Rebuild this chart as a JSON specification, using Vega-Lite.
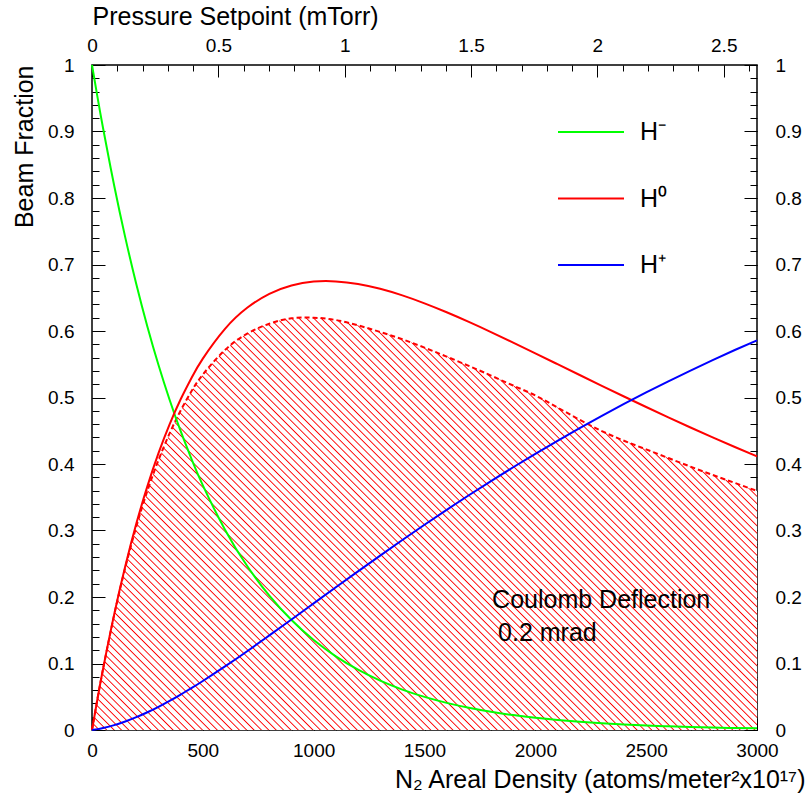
{
  "$schema": "https://vega.github.io/schema/vega-lite/v6.json",
  "width": 665,
  "height": 665,
  "autosize": "none",
  "padding": {"left": 92, "top": 65, "right": 55, "bottom": 73},
  "background": "white",
  "config": {
    "font": "Liberation Sans",
    "view": {"stroke": "black", "strokeWidth": 1.5},
    "axis": {
      "domain": false, "grid": false, "tickColor": "black", "labelColor": "black", "titleColor": "black",
      "labelFont": "Liberation Sans", "titleFont": "Liberation Sans", "labelFontSize": 19, "titleFontSize": 25,
      "titleFontWeight": "normal", "tickWidth": 1, "labelFlush": false, "labelOverlap": false
    }
  },
  "datasets": {
    "main": [
      {"x":0,"s":"H⁻","f":1},{"x":25,"s":"H⁻","f":0.9512},{"x":50,"s":"H⁻","f":0.9048},{"x":100,"s":"H⁻","f":0.8187},{"x":150,"s":"H⁻","f":0.7408},{"x":200,"s":"H⁻","f":0.6703},{"x":250,"s":"H⁻","f":0.6065},{"x":300,"s":"H⁻","f":0.5488},{"x":350,"s":"H⁻","f":0.4966},{"x":400,"s":"H⁻","f":0.4493},{"x":450,"s":"H⁻","f":0.4066},{"x":500,"s":"H⁻","f":0.3679},{"x":600,"s":"H⁻","f":0.3012},{"x":700,"s":"H⁻","f":0.2466},{"x":800,"s":"H⁻","f":0.2019},{"x":900,"s":"H⁻","f":0.1653},{"x":1000,"s":"H⁻","f":0.1353},{"x":1100,"s":"H⁻","f":0.1108},{"x":1200,"s":"H⁻","f":0.0907},{"x":1300,"s":"H⁻","f":0.0743},{"x":1400,"s":"H⁻","f":0.0608},{"x":1500,"s":"H⁻","f":0.0498},{"x":1600,"s":"H⁻","f":0.0408},{"x":1700,"s":"H⁻","f":0.0334},{"x":1800,"s":"H⁻","f":0.0273},{"x":1900,"s":"H⁻","f":0.0224},{"x":2000,"s":"H⁻","f":0.0183},{"x":2100,"s":"H⁻","f":0.0150},{"x":2200,"s":"H⁻","f":0.0123},{"x":2300,"s":"H⁻","f":0.0101},{"x":2400,"s":"H⁻","f":0.0082},{"x":2500,"s":"H⁻","f":0.0067},{"x":2600,"s":"H⁻","f":0.0055},{"x":2700,"s":"H⁻","f":0.0045},{"x":2800,"s":"H⁻","f":0.0037},{"x":2900,"s":"H⁻","f":0.0030},{"x":3000,"s":"H⁻","f":0.0025},
      {"x":0,"s":"H⁰","f":0},{"x":25,"s":"H⁰","f":0.0474},{"x":50,"s":"H⁰","f":0.0922},{"x":100,"s":"H⁰","f":0.1739},{"x":150,"s":"H⁰","f":0.2464},{"x":200,"s":"H⁰","f":0.3104},{"x":250,"s":"H⁰","f":0.3667},{"x":300,"s":"H⁰","f":0.4163},{"x":350,"s":"H⁰","f":0.4596},{"x":400,"s":"H⁰","f":0.4974},{"x":450,"s":"H⁰","f":0.5302},{"x":500,"s":"H⁰","f":0.5585},{"x":600,"s":"H⁰","f":0.6032},{"x":700,"s":"H⁰","f":0.6349},{"x":800,"s":"H⁰","f":0.6559},{"x":900,"s":"H⁰","f":0.6685},{"x":1000,"s":"H⁰","f":0.6743},{"x":1100,"s":"H⁰","f":0.6746},{"x":1200,"s":"H⁰","f":0.6707},{"x":1300,"s":"H⁰","f":0.6634},{"x":1400,"s":"H⁰","f":0.6535},{"x":1500,"s":"H⁰","f":0.6416},{"x":1600,"s":"H⁰","f":0.6282},{"x":1700,"s":"H⁰","f":0.6137},{"x":1800,"s":"H⁰","f":0.5984},{"x":1900,"s":"H⁰","f":0.5825},{"x":2000,"s":"H⁰","f":0.5664},{"x":2100,"s":"H⁰","f":0.5501},{"x":2200,"s":"H⁰","f":0.5338},{"x":2300,"s":"H⁰","f":0.5176},{"x":2400,"s":"H⁰","f":0.5015},{"x":2500,"s":"H⁰","f":0.4857},{"x":2600,"s":"H⁰","f":0.4702},{"x":2700,"s":"H⁰","f":0.4549},{"x":2800,"s":"H⁰","f":0.4401},{"x":2900,"s":"H⁰","f":0.4256},{"x":3000,"s":"H⁰","f":0.4115},
      {"x":0,"s":"H⁺","f":0},{"x":25,"s":"H⁺","f":0.0013},{"x":50,"s":"H⁺","f":0.0030},{"x":100,"s":"H⁺","f":0.0073},{"x":150,"s":"H⁺","f":0.0128},{"x":200,"s":"H⁺","f":0.0193},{"x":250,"s":"H⁺","f":0.0267},{"x":300,"s":"H⁺","f":0.0349},{"x":350,"s":"H⁺","f":0.0438},{"x":400,"s":"H⁺","f":0.0533},{"x":450,"s":"H⁺","f":0.0632},{"x":500,"s":"H⁺","f":0.0737},{"x":600,"s":"H⁺","f":0.0956},{"x":700,"s":"H⁺","f":0.1185},{"x":800,"s":"H⁺","f":0.1422},{"x":900,"s":"H⁺","f":0.1662},{"x":1000,"s":"H⁺","f":0.1904},{"x":1100,"s":"H⁺","f":0.2146},{"x":1200,"s":"H⁺","f":0.2386},{"x":1300,"s":"H⁺","f":0.2623},{"x":1400,"s":"H⁺","f":0.2857},{"x":1500,"s":"H⁺","f":0.3086},{"x":1600,"s":"H⁺","f":0.3311},{"x":1700,"s":"H⁺","f":0.3530},{"x":1800,"s":"H⁺","f":0.3743},{"x":1900,"s":"H⁺","f":0.3951},{"x":2000,"s":"H⁺","f":0.4153},{"x":2100,"s":"H⁺","f":0.4349},{"x":2200,"s":"H⁺","f":0.4539},{"x":2300,"s":"H⁺","f":0.4724},{"x":2400,"s":"H⁺","f":0.4903},{"x":2500,"s":"H⁺","f":0.5076},{"x":2600,"s":"H⁺","f":0.5243},{"x":2700,"s":"H⁺","f":0.5405},{"x":2800,"s":"H⁺","f":0.5562},{"x":2900,"s":"H⁺","f":0.5714},{"x":3000,"s":"H⁺","f":0.5860}
    ],
    "coul": [
      {"x":0,"f":0},{"x":25,"f":0.0474},{"x":50,"f":0.0920},{"x":100,"f":0.1728},{"x":150,"f":0.2440},{"x":200,"f":0.3060},{"x":250,"f":0.3598},{"x":300,"f":0.4060},{"x":350,"f":0.4460},{"x":400,"f":0.4805},{"x":450,"f":0.5100},{"x":500,"f":0.5345},{"x":600,"f":0.5715},{"x":700,"f":0.5960},{"x":800,"f":0.6110},{"x":900,"f":0.6190},{"x":1000,"f":0.6200},{"x":1100,"f":0.6165},{"x":1200,"f":0.6085},{"x":1300,"f":0.5985},{"x":1400,"f":0.5875},{"x":1500,"f":0.5750},{"x":1600,"f":0.5615},{"x":1700,"f":0.5475},{"x":1800,"f":0.5330},{"x":1900,"f":0.5180},{"x":2000,"f":0.5030},{"x":2100,"f":0.4850},{"x":2200,"f":0.4665},{"x":2300,"f":0.4495},{"x":2400,"f":0.4350},{"x":2500,"f":0.4220},{"x":2600,"f":0.4090},{"x":2700,"f":0.3960},{"x":2800,"f":0.3835},{"x":2900,"f":0.3715},{"x":3000,"f":0.3595}
    ]
  },
  "layer": [
    {
      "data": {"name": "coul"},
      "mark": {"type": "area", "interpolate": "natural",
        "fill": {"gradient": "linear", "x1": 0, "y1": 1, "x2": 1, "y2": 0.38, "stops": [
{"offset":0,"color":"red"},{"offset":0.0014,"color":"#fff"},{"offset":0.0066,"color":"#fff"},
{"offset":0.008,"color":"red"},{"offset":0.0094,"color":"#fff"},{"offset":0.0146,"color":"#fff"},
{"offset":0.016,"color":"red"},{"offset":0.0174,"color":"#fff"},{"offset":0.0226,"color":"#fff"},
{"offset":0.024,"color":"red"},{"offset":0.0254,"color":"#fff"},{"offset":0.0306,"color":"#fff"},
{"offset":0.032,"color":"red"},{"offset":0.0334,"color":"#fff"},{"offset":0.0386,"color":"#fff"},
{"offset":0.04,"color":"red"},{"offset":0.0414,"color":"#fff"},{"offset":0.0466,"color":"#fff"},
{"offset":0.048,"color":"red"},{"offset":0.0494,"color":"#fff"},{"offset":0.0546,"color":"#fff"},
{"offset":0.056,"color":"red"},{"offset":0.0574,"color":"#fff"},{"offset":0.0626,"color":"#fff"},
{"offset":0.064,"color":"red"},{"offset":0.0654,"color":"#fff"},{"offset":0.0706,"color":"#fff"},
{"offset":0.072,"color":"red"},{"offset":0.0734,"color":"#fff"},{"offset":0.0786,"color":"#fff"},
{"offset":0.08,"color":"red"},{"offset":0.0814,"color":"#fff"},{"offset":0.0866,"color":"#fff"},
{"offset":0.088,"color":"red"},{"offset":0.0894,"color":"#fff"},{"offset":0.0946,"color":"#fff"},
{"offset":0.096,"color":"red"},{"offset":0.0974,"color":"#fff"},{"offset":0.1026,"color":"#fff"},
{"offset":0.104,"color":"red"},{"offset":0.1054,"color":"#fff"},{"offset":0.1106,"color":"#fff"},
{"offset":0.112,"color":"red"},{"offset":0.1134,"color":"#fff"},{"offset":0.1186,"color":"#fff"},
{"offset":0.12,"color":"red"},{"offset":0.1214,"color":"#fff"},{"offset":0.1266,"color":"#fff"},
{"offset":0.128,"color":"red"},{"offset":0.1294,"color":"#fff"},{"offset":0.1346,"color":"#fff"},
{"offset":0.136,"color":"red"},{"offset":0.1374,"color":"#fff"},{"offset":0.1426,"color":"#fff"},
{"offset":0.144,"color":"red"},{"offset":0.1454,"color":"#fff"},{"offset":0.1506,"color":"#fff"},
{"offset":0.152,"color":"red"},{"offset":0.1534,"color":"#fff"},{"offset":0.1586,"color":"#fff"},
{"offset":0.16,"color":"red"},{"offset":0.1614,"color":"#fff"},{"offset":0.1666,"color":"#fff"},
{"offset":0.168,"color":"red"},{"offset":0.1694,"color":"#fff"},{"offset":0.1746,"color":"#fff"},
{"offset":0.176,"color":"red"},{"offset":0.1774,"color":"#fff"},{"offset":0.1826,"color":"#fff"},
{"offset":0.184,"color":"red"},{"offset":0.1854,"color":"#fff"},{"offset":0.1906,"color":"#fff"},
{"offset":0.192,"color":"red"},{"offset":0.1934,"color":"#fff"},{"offset":0.1986,"color":"#fff"},
{"offset":0.2,"color":"red"},{"offset":0.2014,"color":"#fff"},{"offset":0.2066,"color":"#fff"},
{"offset":0.208,"color":"red"},{"offset":0.2094,"color":"#fff"},{"offset":0.2146,"color":"#fff"},
{"offset":0.216,"color":"red"},{"offset":0.2174,"color":"#fff"},{"offset":0.2226,"color":"#fff"},
{"offset":0.224,"color":"red"},{"offset":0.2254,"color":"#fff"},{"offset":0.2306,"color":"#fff"},
{"offset":0.232,"color":"red"},{"offset":0.2334,"color":"#fff"},{"offset":0.2386,"color":"#fff"},
{"offset":0.24,"color":"red"},{"offset":0.2414,"color":"#fff"},{"offset":0.2466,"color":"#fff"},
{"offset":0.248,"color":"red"},{"offset":0.2494,"color":"#fff"},{"offset":0.2546,"color":"#fff"},
{"offset":0.256,"color":"red"},{"offset":0.2574,"color":"#fff"},{"offset":0.2626,"color":"#fff"},
{"offset":0.264,"color":"red"},{"offset":0.2654,"color":"#fff"},{"offset":0.2706,"color":"#fff"},
{"offset":0.272,"color":"red"},{"offset":0.2734,"color":"#fff"},{"offset":0.2786,"color":"#fff"},
{"offset":0.28,"color":"red"},{"offset":0.2814,"color":"#fff"},{"offset":0.2866,"color":"#fff"},
{"offset":0.288,"color":"red"},{"offset":0.2894,"color":"#fff"},{"offset":0.2946,"color":"#fff"},
{"offset":0.296,"color":"red"},{"offset":0.2974,"color":"#fff"},{"offset":0.3026,"color":"#fff"},
{"offset":0.304,"color":"red"},{"offset":0.3054,"color":"#fff"},{"offset":0.3106,"color":"#fff"},
{"offset":0.312,"color":"red"},{"offset":0.3134,"color":"#fff"},{"offset":0.3186,"color":"#fff"},
{"offset":0.32,"color":"red"},{"offset":0.3214,"color":"#fff"},{"offset":0.3266,"color":"#fff"},
{"offset":0.328,"color":"red"},{"offset":0.3294,"color":"#fff"},{"offset":0.3346,"color":"#fff"},
{"offset":0.336,"color":"red"},{"offset":0.3374,"color":"#fff"},{"offset":0.3426,"color":"#fff"},
{"offset":0.344,"color":"red"},{"offset":0.3454,"color":"#fff"},{"offset":0.3506,"color":"#fff"},
{"offset":0.352,"color":"red"},{"offset":0.3534,"color":"#fff"},{"offset":0.3586,"color":"#fff"},
{"offset":0.36,"color":"red"},{"offset":0.3614,"color":"#fff"},{"offset":0.3666,"color":"#fff"},
{"offset":0.368,"color":"red"},{"offset":0.3694,"color":"#fff"},{"offset":0.3746,"color":"#fff"},
{"offset":0.376,"color":"red"},{"offset":0.3774,"color":"#fff"},{"offset":0.3826,"color":"#fff"},
{"offset":0.384,"color":"red"},{"offset":0.3854,"color":"#fff"},{"offset":0.3906,"color":"#fff"},
{"offset":0.392,"color":"red"},{"offset":0.3934,"color":"#fff"},{"offset":0.3986,"color":"#fff"},
{"offset":0.4,"color":"red"},{"offset":0.4014,"color":"#fff"},{"offset":0.4066,"color":"#fff"},
{"offset":0.408,"color":"red"},{"offset":0.4094,"color":"#fff"},{"offset":0.4146,"color":"#fff"},
{"offset":0.416,"color":"red"},{"offset":0.4174,"color":"#fff"},{"offset":0.4226,"color":"#fff"},
{"offset":0.424,"color":"red"},{"offset":0.4254,"color":"#fff"},{"offset":0.4306,"color":"#fff"},
{"offset":0.432,"color":"red"},{"offset":0.4334,"color":"#fff"},{"offset":0.4386,"color":"#fff"},
{"offset":0.44,"color":"red"},{"offset":0.4414,"color":"#fff"},{"offset":0.4466,"color":"#fff"},
{"offset":0.448,"color":"red"},{"offset":0.4494,"color":"#fff"},{"offset":0.4546,"color":"#fff"},
{"offset":0.456,"color":"red"},{"offset":0.4574,"color":"#fff"},{"offset":0.4626,"color":"#fff"},
{"offset":0.464,"color":"red"},{"offset":0.4654,"color":"#fff"},{"offset":0.4706,"color":"#fff"},
{"offset":0.472,"color":"red"},{"offset":0.4734,"color":"#fff"},{"offset":0.4786,"color":"#fff"},
{"offset":0.48,"color":"red"},{"offset":0.4814,"color":"#fff"},{"offset":0.4866,"color":"#fff"},
{"offset":0.488,"color":"red"},{"offset":0.4894,"color":"#fff"},{"offset":0.4946,"color":"#fff"},
{"offset":0.496,"color":"red"},{"offset":0.4974,"color":"#fff"},{"offset":0.5026,"color":"#fff"},
{"offset":0.504,"color":"red"},{"offset":0.5054,"color":"#fff"},{"offset":0.5106,"color":"#fff"},
{"offset":0.512,"color":"red"},{"offset":0.5134,"color":"#fff"},{"offset":0.5186,"color":"#fff"},
{"offset":0.52,"color":"red"},{"offset":0.5214,"color":"#fff"},{"offset":0.5266,"color":"#fff"},
{"offset":0.528,"color":"red"},{"offset":0.5294,"color":"#fff"},{"offset":0.5346,"color":"#fff"},
{"offset":0.536,"color":"red"},{"offset":0.5374,"color":"#fff"},{"offset":0.5426,"color":"#fff"},
{"offset":0.544,"color":"red"},{"offset":0.5454,"color":"#fff"},{"offset":0.5506,"color":"#fff"},
{"offset":0.552,"color":"red"},{"offset":0.5534,"color":"#fff"},{"offset":0.5586,"color":"#fff"},
{"offset":0.56,"color":"red"},{"offset":0.5614,"color":"#fff"},{"offset":0.5666,"color":"#fff"},
{"offset":0.568,"color":"red"},{"offset":0.5694,"color":"#fff"},{"offset":0.5746,"color":"#fff"},
{"offset":0.576,"color":"red"},{"offset":0.5774,"color":"#fff"},{"offset":0.5826,"color":"#fff"},
{"offset":0.584,"color":"red"},{"offset":0.5854,"color":"#fff"},{"offset":0.5906,"color":"#fff"},
{"offset":0.592,"color":"red"},{"offset":0.5934,"color":"#fff"},{"offset":0.5986,"color":"#fff"},
{"offset":0.6,"color":"red"},{"offset":0.6014,"color":"#fff"},{"offset":0.6066,"color":"#fff"},
{"offset":0.608,"color":"red"},{"offset":0.6094,"color":"#fff"},{"offset":0.6146,"color":"#fff"},
{"offset":0.616,"color":"red"},{"offset":0.6174,"color":"#fff"},{"offset":0.6226,"color":"#fff"},
{"offset":0.624,"color":"red"},{"offset":0.6254,"color":"#fff"},{"offset":0.6306,"color":"#fff"},
{"offset":0.632,"color":"red"},{"offset":0.6334,"color":"#fff"},{"offset":0.6386,"color":"#fff"},
{"offset":0.64,"color":"red"},{"offset":0.6414,"color":"#fff"},{"offset":0.6466,"color":"#fff"},
{"offset":0.648,"color":"red"},{"offset":0.6494,"color":"#fff"},{"offset":0.6546,"color":"#fff"},
{"offset":0.656,"color":"red"},{"offset":0.6574,"color":"#fff"},{"offset":0.6626,"color":"#fff"},
{"offset":0.664,"color":"red"},{"offset":0.6654,"color":"#fff"},{"offset":0.6706,"color":"#fff"},
{"offset":0.672,"color":"red"},{"offset":0.6734,"color":"#fff"},{"offset":0.6786,"color":"#fff"},
{"offset":0.68,"color":"red"},{"offset":0.6814,"color":"#fff"},{"offset":0.6866,"color":"#fff"},
{"offset":0.688,"color":"red"},{"offset":0.6894,"color":"#fff"},{"offset":0.6946,"color":"#fff"},
{"offset":0.696,"color":"red"},{"offset":0.6974,"color":"#fff"},{"offset":0.7026,"color":"#fff"},
{"offset":0.704,"color":"red"},{"offset":0.7054,"color":"#fff"},{"offset":0.7106,"color":"#fff"},
{"offset":0.712,"color":"red"},{"offset":0.7134,"color":"#fff"},{"offset":0.7186,"color":"#fff"},
{"offset":0.72,"color":"red"},{"offset":0.7214,"color":"#fff"},{"offset":0.7266,"color":"#fff"},
{"offset":0.728,"color":"red"},{"offset":0.7294,"color":"#fff"},{"offset":0.7346,"color":"#fff"},
{"offset":0.736,"color":"red"},{"offset":0.7374,"color":"#fff"},{"offset":0.7426,"color":"#fff"},
{"offset":0.744,"color":"red"},{"offset":0.7454,"color":"#fff"},{"offset":0.7506,"color":"#fff"},
{"offset":0.752,"color":"red"},{"offset":0.7534,"color":"#fff"},{"offset":0.7586,"color":"#fff"},
{"offset":0.76,"color":"red"},{"offset":0.7614,"color":"#fff"},{"offset":0.7666,"color":"#fff"},
{"offset":0.768,"color":"red"},{"offset":0.7694,"color":"#fff"},{"offset":0.7746,"color":"#fff"},
{"offset":0.776,"color":"red"},{"offset":0.7774,"color":"#fff"},{"offset":0.7826,"color":"#fff"},
{"offset":0.784,"color":"red"},{"offset":0.7854,"color":"#fff"},{"offset":0.7906,"color":"#fff"},
{"offset":0.792,"color":"red"},{"offset":0.7934,"color":"#fff"},{"offset":0.7986,"color":"#fff"},
{"offset":0.8,"color":"red"},{"offset":0.8014,"color":"#fff"},{"offset":0.8066,"color":"#fff"},
{"offset":0.808,"color":"red"},{"offset":0.8094,"color":"#fff"},{"offset":0.8146,"color":"#fff"},
{"offset":0.816,"color":"red"},{"offset":0.8174,"color":"#fff"},{"offset":0.8226,"color":"#fff"},
{"offset":0.824,"color":"red"},{"offset":0.8254,"color":"#fff"},{"offset":0.8306,"color":"#fff"},
{"offset":0.832,"color":"red"},{"offset":0.8334,"color":"#fff"},{"offset":0.8386,"color":"#fff"},
{"offset":0.84,"color":"red"},{"offset":0.8414,"color":"#fff"},{"offset":0.8466,"color":"#fff"},
{"offset":0.848,"color":"red"},{"offset":0.8494,"color":"#fff"},{"offset":0.8546,"color":"#fff"},
{"offset":0.856,"color":"red"},{"offset":0.8574,"color":"#fff"},{"offset":0.8626,"color":"#fff"},
{"offset":0.864,"color":"red"},{"offset":0.8654,"color":"#fff"},{"offset":0.8706,"color":"#fff"},
{"offset":0.872,"color":"red"},{"offset":0.8734,"color":"#fff"},{"offset":0.8786,"color":"#fff"},
{"offset":0.88,"color":"red"},{"offset":0.8814,"color":"#fff"},{"offset":0.8866,"color":"#fff"},
{"offset":0.888,"color":"red"},{"offset":0.8894,"color":"#fff"},{"offset":0.8946,"color":"#fff"},
{"offset":0.896,"color":"red"},{"offset":0.8974,"color":"#fff"},{"offset":0.9026,"color":"#fff"},
{"offset":0.904,"color":"red"},{"offset":0.9054,"color":"#fff"},{"offset":0.9106,"color":"#fff"},
{"offset":0.912,"color":"red"},{"offset":0.9134,"color":"#fff"},{"offset":0.9186,"color":"#fff"},
{"offset":0.92,"color":"red"},{"offset":0.9214,"color":"#fff"},{"offset":0.9266,"color":"#fff"},
{"offset":0.928,"color":"red"},{"offset":0.9294,"color":"#fff"},{"offset":0.9346,"color":"#fff"},
{"offset":0.936,"color":"red"},{"offset":0.9374,"color":"#fff"},{"offset":0.9426,"color":"#fff"},
{"offset":0.944,"color":"red"},{"offset":0.9454,"color":"#fff"},{"offset":0.9506,"color":"#fff"},
{"offset":0.952,"color":"red"},{"offset":0.9534,"color":"#fff"},{"offset":0.9586,"color":"#fff"},
{"offset":0.96,"color":"red"},{"offset":0.9614,"color":"#fff"},{"offset":0.9666,"color":"#fff"},
{"offset":0.968,"color":"red"},{"offset":0.9694,"color":"#fff"},{"offset":0.9746,"color":"#fff"},
{"offset":0.976,"color":"red"},{"offset":0.9774,"color":"#fff"},{"offset":0.9826,"color":"#fff"},
{"offset":0.984,"color":"red"},{"offset":0.9854,"color":"#fff"},{"offset":0.9906,"color":"#fff"},
{"offset":0.992,"color":"red"},{"offset":0.9934,"color":"#fff"},{"offset":0.9986,"color":"#fff"},
{"offset":1,"color":"red"}
        ]}},
      "encoding": {
        "x": {"field": "x", "type": "quantitative", "scale": {"domain": [0, 3000], "nice": false, "zero": false},
          "axis": {"orient": "bottom", "values": [0,500,1000,1500,2000,2500,3000], "format": "d", "tickSize": -12, "labelPadding": 23,
            "title": "N₂ Areal Density (atoms/meter²x10¹⁷)", "titleAnchor": "end", "titleAlign": "right", "titleX": 713, "titleY": 57, "titleBaseline": "alphabetic"}},
        "y": {"field": "f", "type": "quantitative", "scale": {"domain": [0, 1], "nice": false, "zero": false},
          "axis": {"orient": "left", "values": [0,0.1,0.2,0.3,0.4,0.5,0.6,0.7,0.8,0.9,1], "format": ".1~f", "tickSize": -13, "labelPadding": 31,
            "title": "Beam Fraction", "titleAnchor": "end", "titleAlign": "right", "titleAngle": -90, "titleX": -60, "titleY": 0, "titleBaseline": "alphabetic"}}
      }
    },
    {
      "data": {"name": "coul"},
      "mark": {"type": "line", "interpolate": "natural", "color": "red", "strokeWidth": 2, "strokeDash": [5, 3]},
      "encoding": {
        "x": {"field": "x", "type": "quantitative",
          "axis": {"orient": "bottom", "values": [0,100,200,300,400,500,600,700,800,900,1000,1100,1200,1300,1400,1500,1600,1700,1800,1900,2000,2100,2200,2300,2400,2500,2600,2700,2800,2900,3000], "tickSize": -6, "labels": false, "title": null}},
        "y": {"field": "f", "type": "quantitative",
          "axis": {"orient": "left", "values": [0,0.02,0.04,0.06,0.08,0.1,0.12,0.14,0.16,0.18,0.2,0.22,0.24,0.26,0.28,0.3,0.32,0.34,0.36,0.38,0.4,0.42,0.44,0.46,0.48,0.5,0.52,0.54,0.56,0.58,0.6,0.62,0.64,0.66,0.68,0.7,0.72,0.74,0.76,0.78,0.8,0.82,0.84,0.86,0.88,0.9,0.92,0.94,0.96,0.98,1], "tickSize": -7, "labels": false, "title": null}}
      }
    },
    {
      "data": {"name": "main"},
      "mark": {"type": "line", "interpolate": "natural", "strokeWidth": 2},
      "encoding": {
        "x": {"field": "x", "type": "quantitative",
          "axis": {"orient": "top", "values": [0,570,1140,1710,2280,2850], "labelExpr": "format(datum.value/1140, '.1~f')", "tickSize": -12, "labelPadding": 22,
            "title": "Pressure Setpoint (mTorr)", "titleAnchor": "start", "titleAlign": "left", "titleX": 0, "titleY": -41, "titleBaseline": "alphabetic"}},
        "y": {"field": "f", "type": "quantitative",
          "axis": {"orient": "right", "values": [0,0.1,0.2,0.3,0.4,0.5,0.6,0.7,0.8,0.9,1], "format": ".1~f", "tickSize": -13, "labelPadding": 31, "title": null}},
        "color": {"field": "s", "type": "nominal",
          "scale": {"domain": ["H⁻", "H⁰", "H⁺"], "range": ["#00ff00", "#ff0000", "#0000ff"]},
          "legend": {"orient": "none", "legendX": 465, "legendY": 33, "direction": "vertical", "title": null, "symbolType": "stroke",
            "symbolSize": 4356, "symbolStrokeWidth": 2, "labelFontSize": 25, "labelFont": "Liberation Sans", "labelColor": "black", "labelOffset": 15, "rowPadding": 19.5, "padding": 0}}
      }
    },
    {
      "data": {"values": [{}]},
      "mark": {"type": "text", "text": "Coulomb Deflection", "align": "left", "baseline": "alphabetic", "fontSize": 25, "font": "Liberation Sans", "color": "black"},
      "encoding": {
        "x": {"datum": 1805, "type": "quantitative",
          "axis": {"orient": "top", "values": [0,114,228,342,456,570,684,798,912,1026,1140,1254,1368,1482,1596,1710,1824,1938,2052,2166,2280,2394,2508,2622,2736,2850,2964], "tickSize": -6, "labels": false, "title": null}},
        "y": {"datum": 0.1835, "type": "quantitative",
          "axis": {"orient": "right", "values": [0,0.02,0.04,0.06,0.08,0.1,0.12,0.14,0.16,0.18,0.2,0.22,0.24,0.26,0.28,0.3,0.32,0.34,0.36,0.38,0.4,0.42,0.44,0.46,0.48,0.5,0.52,0.54,0.56,0.58,0.6,0.62,0.64,0.66,0.68,0.7,0.72,0.74,0.76,0.78,0.8,0.82,0.84,0.86,0.88,0.9,0.92,0.94,0.96,0.98,1], "tickSize": -7, "labels": false, "title": null}}
      }
    },
    {
      "data": {"values": [{}]},
      "mark": {"type": "text", "text": "0.2 mrad", "align": "left", "baseline": "alphabetic", "fontSize": 25, "font": "Liberation Sans", "color": "black"},
      "encoding": {
        "x": {"datum": 1832, "type": "quantitative", "axis": null},
        "y": {"datum": 0.1338, "type": "quantitative", "axis": null}
      }
    }
  ],
  "resolve": {"axis": {"x": "independent", "y": "independent"}}
}
